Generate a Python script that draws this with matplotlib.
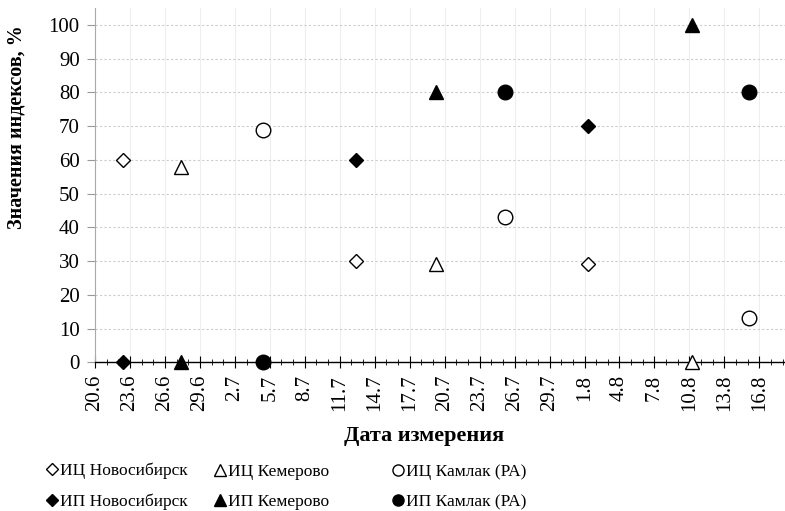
import matplotlib
matplotlib.use('Agg')
import matplotlib.pyplot as plt
from matplotlib.ticker import MultipleLocator, FixedLocator

plt.rcParams['font.family'] = ['Liberation Serif', 'DejaVu Serif']

# ── данные ──────────────────────────────────────────────
# позиция по оси X — дни от 20.6
tick_labels = ['20.6', '23.6', '26.6', '29.6', '2.7', '5.7', '8.7', '11.7', '14.7', '17.7',
               '20.7', '23.7', '26.7', '29.7', '1.8', '4.8', '7.8', '10.8', '13.8', '16.8']

ic_novosib_x = [2.4, 22.4, 42.3]
ic_novosib_y = [60, 30, 29]
ip_novosib_x = [2.4, 22.4, 42.3]
ip_novosib_y = [0, 60, 70]

ic_kemerovo_x = [7.4, 29.3, 51.2]
ic_kemerovo_y = [58, 29, 0]
ip_kemerovo_x = [7.4, 29.3, 51.2]
ip_kemerovo_y = [0, 80, 100]

ic_kamlak_x = [14.4, 35.2, 56.1]
ic_kamlak_y = [69, 43, 13]
ip_kamlak_x = [14.4, 35.2, 56.1]
ip_kamlak_y = [0, 80, 80]

fig = plt.figure(figsize=(7.85, 5.11), dpi=100)
ax = fig.add_axes([0.121, 0.291, 0.879, 0.693])

style = dict(linestyle='none', color='black', clip_on=False, zorder=5)
ax.plot(ic_novosib_x, ic_novosib_y, marker='D', ms=7.5, mfc='white', mew=1.0, **style)
ax.plot(ip_novosib_x, ip_novosib_y, marker='D', ms=7.5, mfc='black', **style)
ax.plot(ic_kemerovo_x, ic_kemerovo_y, marker='^', ms=10, mfc='white', mew=1.0, **style)
ax.plot(ip_kemerovo_x, ip_kemerovo_y, marker='^', ms=10, mfc='black', **style)
ax.plot(ic_kamlak_x, ic_kamlak_y, marker='o', ms=10.5, mfc='white', mew=1.0, **style)
ax.plot(ip_kamlak_x, ip_kamlak_y, marker='o', ms=10.5, mfc='black', **style)

ax.set_xlim(0, 59.2)
ax.set_ylim(0, 105)

ax.xaxis.set_major_locator(FixedLocator([3 * i for i in range(len(tick_labels))]))
ax.set_xticklabels(tick_labels, rotation=90, fontsize=15)
ax.xaxis.set_minor_locator(MultipleLocator(1))
ax.tick_params(axis='x', which='major', direction='inout', length=8, width=0.8, pad=5)
ax.tick_params(axis='x', which='minor', direction='inout', length=4, width=0.6)

ax.yaxis.set_major_locator(MultipleLocator(10))
ax.tick_params(axis='y', labelsize=15, length=6, color='#999999', width=0.8, pad=5)

for s in ['top', 'right']:
    ax.spines[s].set_visible(False)
ax.spines['left'].set_color('#aaaaaa')
ax.spines['bottom'].set_linestyle((0, (1, 1)))
ax.spines['bottom'].set_linewidth(1.0)
ax.spines['bottom'].set_zorder(4)

ax.grid(axis='x', color='#eeeeee', linewidth=0.8)
ax.grid(axis='y', color='#cccccc', linewidth=0.8, linestyle=(0, (2, 2)))
ax.set_axisbelow(True)

ax.set_xlabel('Дата измерения', fontsize=16, fontweight='bold')
ax.xaxis.set_label_coords(0.477, -0.18)
ax.set_ylabel('Значения индексов, %', fontsize=14.5, fontweight='bold')
ax.yaxis.set_label_coords(-0.099, 0.664)

# легенда: три колонки по две строки
cols = [
    (0.048, ['ИЦ Новосибирск', 'ИП Новосибирск'], 'D', 6),
    (0.262, ['ИЦ Кемерово', 'ИП Кемерово'], '^', 8),
    (0.489, ['ИЦ Камлак (РА)', 'ИП Камлак (РА)'], 'o', 8),
]
for x0, labels, mk, ms in cols:
    h1, = ax.plot([], [], marker=mk, ms=ms, mfc='white', mec='black', linestyle='none')
    h2, = ax.plot([], [], marker=mk, ms=ms, mfc='black', mec='black', linestyle='none')
    leg = fig.legend([h1, h2], labels, loc='lower left', bbox_to_anchor=(x0, -0.016),
                     frameon=False, fontsize=12.5, handlelength=0.6, handletextpad=0.2,
                     labelspacing=0.85, borderaxespad=0.1)

fig.savefig('out.png', dpi=100)
